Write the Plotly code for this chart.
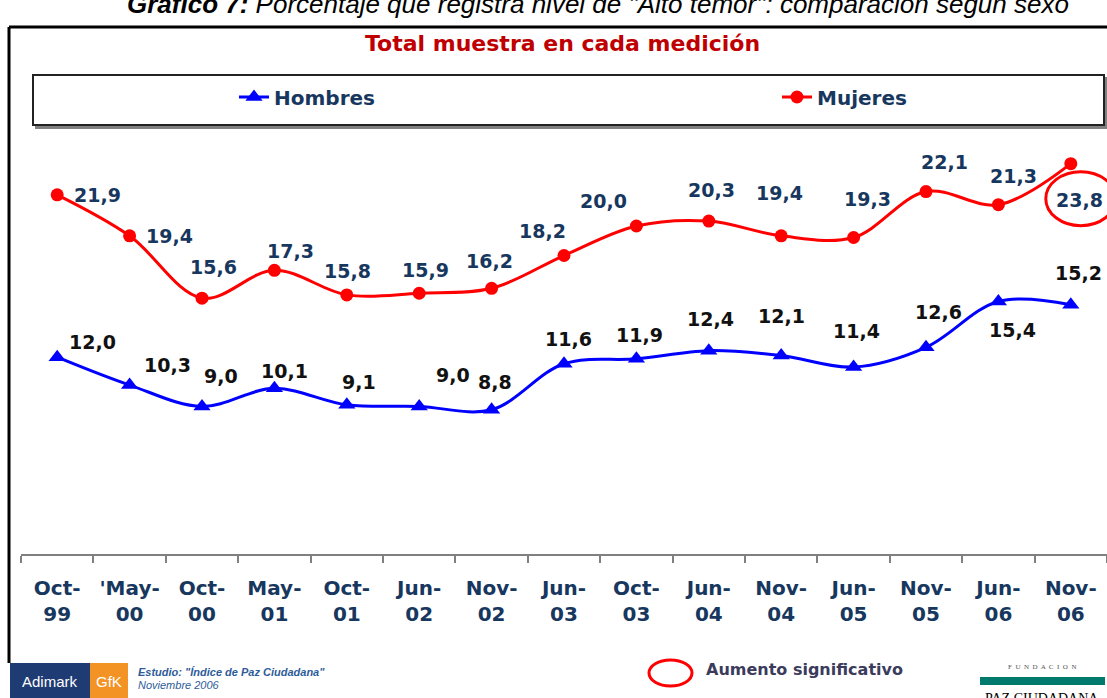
import plotly.graph_objects as go

# ---------------- data ----------------
categories = ["Oct-99", "'May-00", "Oct-00", "May-01", "Oct-01", "Jun-02", "Nov-02",
              "Jun-03", "Oct-03", "Jun-04", "Nov-04", "Jun-05", "Nov-05", "Jun-06", "Nov-06"]
tick_labels = ["Oct-<br>99", "'May-<br>00", "Oct-<br>00", "May-<br>01", "Oct-<br>01",
               "Jun-<br>02", "Nov-<br>02", "Jun-<br>03", "Oct-<br>03", "Jun-<br>04",
               "Nov-<br>04", "Jun-<br>05", "Nov-<br>05", "Jun-<br>06", "Nov-<br>06"]
hombres = [12.0, 10.3, 9.0, 10.1, 9.1, 9.0, 8.8, 11.6, 11.9, 12.4, 12.1, 11.4, 12.6, 15.4, 15.2]
mujeres = [21.9, 19.4, 15.6, 17.3, 15.8, 15.9, 16.2, 18.2, 20.0, 20.3, 19.4, 19.3, 22.1, 21.3, 23.8]
series_names = ["Hombres", "Mujeres"]

# label offsets in pixels (dx, dy up) – styling only
red_off = [(40, 0), (40, 0), (11, 31), (16, 19), (1, 24), (6, 23), (-2, 27), (-22, 25),
           (-33, 25), (3, 31), (-2, 43), (14, 38), (18, 30), (15, 29), (9, -36)]
blue_off = [(35, 15), (38, 20), (19, 30), (10, 17), (12, 23), (34, 31), (3, 28), (4, 25),
            (3, 24), (2, 32), (0, 40), (3, 36), (12, 35), (14, -29), (8, 32)]

# ---------------- geometry helpers ----------------
W, H = 1107, 698
ML, MR, MT, MB = 21, 0, 144, 144
PW = W - ML - MR
PH = H - MT - MB


def px(x):
    return (x - ML) / PW


def py(y):
    return (H - MB - y) / PH


NAVY = "#17375E"
FONT = "DejaVu Sans"

fig = go.Figure()
fig.add_trace(go.Scatter(
    x=categories, y=hombres, name=series_names[0], mode="lines+markers",
    line=dict(color="#0000FF", width=3, shape="spline", smoothing=1.0),
    marker=dict(symbol="triangle-up", size=15, color="#0000FF"),
))
fig.add_trace(go.Scatter(
    x=categories, y=mujeres, name=series_names[1], mode="lines+markers",
    line=dict(color="#FF0000", width=3, shape="spline", smoothing=1.0),
    marker=dict(symbol="circle", size=13, color="#FF0000"),
))

annotations = []


def fmt(v):
    return f"{v:.1f}".replace(".", ",")


for c, v, (dx, dy) in zip(categories, mujeres, red_off):
    annotations.append(dict(x=c, y=v, xref="x", yref="y", text=fmt(v), showarrow=False,
                            xshift=dx, yshift=dy,
                            font=dict(family=FONT, size=19, color=NAVY, weight="bold")))
for c, v, (dx, dy) in zip(categories, hombres, blue_off):
    annotations.append(dict(x=c, y=v, xref="x", yref="y", text=fmt(v), showarrow=False,
                            xshift=dx, yshift=dy,
                            font=dict(family=FONT, size=19, color="#111111", weight="bold")))

# caption (cut at top, as in the source)
annotations.append(dict(
    x=px(598), y=py(4), xref="paper", yref="paper", showarrow=False,
    xanchor="center", yanchor="middle",
    text="<b>Gráfico 7:</b> Porcentaje que registra nivel de \"Alto temor\": comparación según sexo",
    font=dict(family="Liberation Sans", size=26, color="#000000", style="italic")))
# title
annotations.append(dict(
    x=px(562), y=py(43), xref="paper", yref="paper", showarrow=False,
    xanchor="center", yanchor="middle", text="Total muestra en cada medición",
    font=dict(family=FONT, size=22, color="#C00000", weight="bold")))
# Aumento significativo
annotations.append(dict(
    x=px(704), y=py(669), xref="paper", yref="paper", showarrow=False,
    xanchor="left", yanchor="middle", text="Aumento significativo",
    font=dict(family=FONT, size=16, color="#3B3B5C", weight="bold")))
# Adimark logo texts
annotations.append(dict(
    x=px(50), y=py(681), xref="paper", yref="paper", showarrow=False,
    xanchor="center", yanchor="middle", text="Adimark",
    font=dict(family="Liberation Sans", size=15, color="#FFFFFF")))
annotations.append(dict(
    x=px(109), y=py(681), xref="paper", yref="paper", showarrow=False,
    xanchor="center", yanchor="middle", text="GfK",
    font=dict(family="Liberation Sans", size=15, color="#FFFFFF")))
annotations.append(dict(
    x=px(136), y=py(672), xref="paper", yref="paper", showarrow=False,
    xanchor="left", yanchor="middle", text="<b>Estudio: \"Índice de Paz Ciudadana\"</b>",
    font=dict(family="Liberation Sans", size=11, color="#2E5C9A", style="italic")))
annotations.append(dict(
    x=px(136), y=py(685), xref="paper", yref="paper", showarrow=False,
    xanchor="left", yanchor="middle", text="Noviembre 2006",
    font=dict(family="Liberation Sans", size=11, color="#2E5C9A", style="italic")))
# Fundación Paz Ciudadana logo texts
annotations.append(dict(
    x=px(1042), y=py(667), xref="paper", yref="paper", showarrow=False,
    xanchor="center", yanchor="middle", text="F  U  N  D  A  C  I  O  N",
    font=dict(family="Liberation Serif", size=7, color="#555555")))
annotations.append(dict(
    x=px(1042), y=py(698), xref="paper", yref="paper", showarrow=False,
    xanchor="center", yanchor="middle", text="PAZ CIUDADANA",
    font=dict(family="Liberation Serif", size=14, color="#000000")))

shapes = []
# outer frame
shapes.append(dict(type="line", xref="paper", yref="paper", x0=px(9), x1=px(1110),
                   y0=py(27), y1=py(27), line=dict(color="#000000", width=3)))
shapes.append(dict(type="line", xref="paper", yref="paper", x0=px(9), x1=px(9),
                   y0=py(27), y1=py(663), line=dict(color="#000000", width=3)))
# legend box with shadow
shapes.append(dict(type="rect", xref="paper", yref="paper", x0=px(36), x1=px(1107),
                   y0=py(128), y1=py(78), line=dict(color="#808080", width=2),
                   fillcolor="#808080", layer="below"))
shapes.append(dict(type="rect", xref="paper", yref="paper", x0=px(33), x1=px(1104),
                   y0=py(125), y1=py(75), line=dict(color="#222222", width=2),
                   fillcolor="#FFFFFF", layer="below"))
# highlight ellipse around last Mujeres point
shapes.append(dict(type="circle", xref="x", yref="y", xsizemode="pixel", ysizemode="pixel",
                   xanchor=categories[-1], yanchor=mujeres[-1],
                   x0=-25, x1=45, y0=-62, y1=-8, line=dict(color="#FF0000", width=3)))
# Aumento significativo ellipse
shapes.append(dict(type="circle", xref="paper", yref="paper", x0=px(649), x1=px(692),
                   y0=py(686), y1=py(660), line=dict(color="#FF0000", width=3)))
# Adimark logo blocks
shapes.append(dict(type="rect", xref="paper", yref="paper", x0=px(10), x1=px(90),
                   y0=py(700), y1=py(663), line=dict(width=0), fillcolor="#1F3B73"))
shapes.append(dict(type="rect", xref="paper", yref="paper", x0=px(90), x1=px(128),
                   y0=py(700), y1=py(663), line=dict(width=0), fillcolor="#F39325"))
# Fundación teal bar
shapes.append(dict(type="rect", xref="paper", yref="paper", x0=px(980), x1=px(1105),
                   y0=py(685), y1=py(677), line=dict(width=0), fillcolor="#007A6C"))

fig.update_layout(
    width=W, height=H,
    margin=dict(l=ML, r=MR, t=MT, b=MB, autoexpand=False),
    paper_bgcolor="#FFFFFF", plot_bgcolor="#FFFFFF",
    showlegend=True,
    legend=dict(orientation="h", x=px(234), y=py(97), xanchor="left", yanchor="middle",
                entrywidth=498, entrywidthmode="pixels", bgcolor="rgba(0,0,0,0)",
                font=dict(family=FONT, size=20, color=NAVY, weight="bold"),
                itemclick=False, itemdoubleclick=False),
    xaxis=dict(type="category", categoryorder="array", categoryarray=categories,
               range=[-0.5, len(categories) - 0.5],
               tickvals=categories, ticktext=tick_labels, tickson="boundaries",
               ticks="outside", ticklen=7, tickwidth=2, tickcolor="#808080",
               showline=True, linecolor="#808080", linewidth=2, showgrid=False,
               zeroline=False, ticklabelstandoff=15, tickangle=0,
               tickfont=dict(family=FONT, size=20, color=NAVY, weight="bold")),
    yaxis=dict(range=[0, 25], visible=False, showgrid=False, zeroline=False),
    annotations=annotations, shapes=shapes,
)

fig.write_html("out.html", config={"displayModeBar": False},
               post_script="document.body.style.margin='0';document.body.style.overflow='hidden';")
